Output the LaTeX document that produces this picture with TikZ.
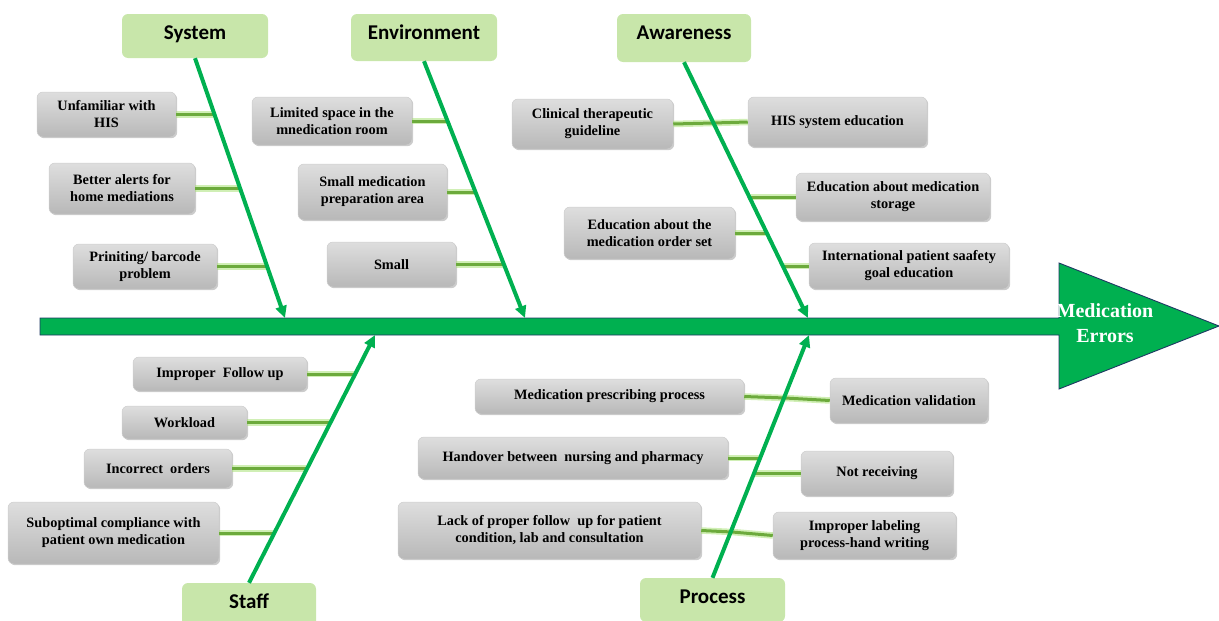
\documentclass[tikz,border=0pt]{standalone}
\usepackage{fontspec}
\setmainfont{Liberation Serif}
\newfontfamily\catfont{Carlito}
\usetikzlibrary{arrows.meta,shadows}
\definecolor{spinegreen}{RGB}{0,176,80}
\definecolor{catfill}{RGB}{200,230,170}
\definecolor{navyline}{RGB}{31,56,100}
\definecolor{connc}{RGB}{108,170,60}
\definecolor{connglow}{RGB}{170,225,120}
\definecolor{boxtop}{RGB}{222,222,222}
\definecolor{boxbot}{RGB}{184,184,184}
\definecolor{boxedge}{RGB}{205,205,205}
\newcommand\causebox[6]{\node[cause, minimum width=#4pt, minimum height=#5pt] (#1) at (#2,#3) {#6};}
\newcommand\catbox[6]{\node[catb, minimum width=#4pt, text depth=#5pt] (#1) at (#2,#3) {#6};}
\begin{document}
\begin{tikzpicture}[x=1pt,y=-1pt,
 cause/.style={rounded corners=6pt, top color=boxtop, bottom color=boxbot, draw=boxedge, line width=0.5pt,
   align=center, font=\fontsize{14.3}{17}\selectfont\bfseries, inner sep=0pt, text=black,
   drop shadow={shadow xshift=1.2pt, shadow yshift=-1.2pt, opacity=0.2, fill=black}},
 catb/.style={rounded corners=6pt, fill=catfill, inner sep=0pt, text height=25.5pt,
   font=\catfont\fontsize{21}{25}\selectfont\bfseries},
 bone/.style={draw=spinegreen, line width=4pt, -{Triangle[length=12pt,width=11pt]}},
 conn/.style={draw=connc, line width=3pt, preaction={draw=connglow, line width=6.5pt, opacity=0.55}},
]
\useasboundingbox (0,0) rectangle (1219,621);
\begin{scope}
\clip (0,0) rectangle (1219,621);
% spine and head
\fill[spinegreen, draw=navyline, line width=0.9pt] (40,318) -- (1059,318) -- (1059,263) -- (1219,326) -- (1059,389) -- (1059,335) -- (40,335) -- cycle;
\node[text=white, font=\fontsize{20}{25}\selectfont\bfseries, align=center, inner sep=0pt] (effect) at (1105,323) {Medication\\Errors};
\coordinate (sysend) at (285,318);
\coordinate (envend) at (525,318);
\coordinate (awend) at (808,318);
\coordinate (staffend) at (375,335);
\coordinate (procend) at (809,335);

% category boxes (last number before label = depth below baseline)
\catbox{system}{195}{36}{146}{18.5}{System}
\catbox{env}{424}{37.5}{146}{21.5}{Environment}
\catbox{aware}{684}{38}{134}{22.5}{Awareness}
\catbox{staff}{249}{605}{134}{18.5}{Staff}
\catbox{process}{712.5}{600}{145}{18.5}{Process}

% cause boxes: system
\causebox{unfam}{106.5}{114.5}{139}{45}{Unfamiliar with\\HIS}
\causebox{alerts}{122}{188.5}{146}{51}{Better alerts for\\home mediations}
\causebox{print}{145}{266.5}{144}{45}{Priniting/ barcode\\problem}
% environment
\causebox{limited}{332}{121}{160}{48}{Limited space in the\\mnedication room}
\causebox{smallmed}{372.5}{192}{149}{56}{Small medication\\preparation area}
\causebox{small}{391.5}{264.5}{129}{45}{Small}
% awareness
\causebox{clinical}{592.5}{124}{161}{50}{Clinical therapeutic\\guideline}
\causebox{hissys}{837.5}{122}{179}{50}{HIS system education}
\causebox{storage}{893}{197}{194}{48}{Education about medication\\storage}
\causebox{orderset}{649.5}{233}{171}{52}{Education about the\\medication order set}
\causebox{intl}{909}{266}{200}{46}{International patient saafety\\goal education}
% staff
\causebox{follow}{220}{374}{174}{34}{Improper\ \ Follow up}
\causebox{workload}{184.5}{422.5}{125}{33}{Workload}
\causebox{incorrect}{158}{468.5}{148}{39}{Incorrect\ \ orders}
\causebox{subopt}{113.5}{533}{211}{62}{Suboptimal compliance with\\patient own medication}
% process
\causebox{prescribing}{609.5}{396.5}{269}{35}{Medication prescribing process}
\causebox{validation}{909}{400.5}{158}{45}{Medication validation}
\causebox{handover}{573}{458}{310}{42}{Handover between\ \ nursing and pharmacy}
\causebox{notrec}{877}{473.5}{152}{45}{Not receiving}
\causebox{lack}{549.5}{530.5}{303}{57}{Lack of proper follow\ \ up for patient\\condition, lab and consultation}
\causebox{labeling}{864.5}{535.5}{183}{47}{Improper labeling\\process-hand writing}

% junction coordinates on the bones
\coordinate (j1) at (214,114.5);
\coordinate (j2) at (240,188.5);
\coordinate (j3) at (266,266.5);
\coordinate (j4) at (447,121);
\coordinate (j5) at (475,192);
\coordinate (j6) at (504,264.5);
\coordinate (j7) at (713,123);
\coordinate (j8) at (748,197);
\coordinate (j9) at (766,233);
\coordinate (j10) at (782,266);
\coordinate (j11) at (355,374);
\coordinate (j12) at (330,422.5);
\coordinate (j13) at (306,468.5);
\coordinate (j14) at (273,533);
\coordinate (j15) at (785,398);
\coordinate (j16) at (761,458);
\coordinate (j17) at (755,473.5);
\coordinate (j18) at (732,532);

% connectors
\draw[conn] (unfam.east) -- (j1);
\draw[conn] (alerts.east) -- (j2);
\draw[conn] (print.east) -- (j3);
\draw[conn] (limited.east) -- (j4);
\draw[conn] (smallmed.east) -- (j5);
\draw[conn] (small.east) -- (j6);
\draw[conn] (clinical.east) -- (j7);
\draw[conn] (j7) -- (hissys.west);
\draw[conn] (storage.west) -- (j8);
\draw[conn] (orderset.east) -- (j9);
\draw[conn] (intl.west) -- (j10);
\draw[conn] (follow.east) -- (j11);
\draw[conn] (workload.east) -- (j12);
\draw[conn] (incorrect.east) -- (j13);
\draw[conn] (subopt.east) -- (j14);
\draw[conn] (prescribing.east) -- (j15);
\draw[conn] (j15) -- (validation.west);
\draw[conn] (handover.east) -- (j16);
\draw[conn] (notrec.west) -- (j17);
\draw[conn] (lack.east) -- (j18);
\draw[conn] (j18) -- (labeling.west);

% bones
\draw[bone] (system.south) -- (sysend);
\draw[bone] (env.south) -- (envend);
\draw[bone] (aware.south) -- (awend);
\draw[bone] (staff.north) -- (staffend);
\draw[bone] (process.north) -- (procend);
\end{scope}
\end{tikzpicture}
\end{document}
